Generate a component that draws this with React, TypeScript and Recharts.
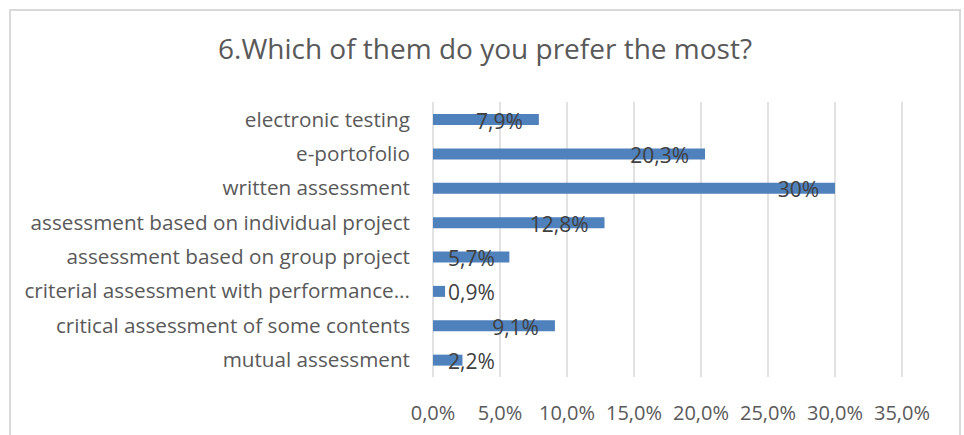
import React from "react";
import { BarChart, Bar, XAxis, YAxis, CartesianGrid, LabelList } from "recharts";

const categories = [
	"electronic testing",
	"e-portofolio",
	"written assessment",
	"assessment based on individual project",
	"assessment based on group project",
	"criterial assessment with performance...",
	"critical assessment of some contents",
	"mutual assessment",
];
const shares = [7.9, 20.3, 30, 12.8, 5.7, 0.9, 9.1, 2.2];
const shareLabels = ["7,9%", "20,3%", "30%", "12,8%", "5,7%", "0,9%", "9,1%", "2,2%"];
const xTicks = [0, 5, 10, 15, 20, 25, 30, 35];

const data = categories.map((name, i) => ({ name, share: shares[i], label: shareLabels[i] }));

const FONT = '"Open Sans", sans-serif';
const LABEL_SIZE = 21;

let ctx: CanvasRenderingContext2D | null = null;
const textWidth = (s: string) => {
	if (!ctx) ctx = document.createElement("canvas").getContext("2d");
	if (!ctx) return s.length * 12;
	ctx.font = `${LABEL_SIZE}px "Open Sans"`;
	return ctx.measureText(s).width;
};

// value label sits just inside the bar end, but never left of the plot start
const ValueLabel = (props: any) => {
	const { x, y, width, height, value } = props;
	const w = textWidth(value);
	const tx = Math.max(x + 15, x + width - 16 - w);
	return (
		<text
			x={tx}
			y={y + height / 2 + 1}
			dominantBaseline="central"
			fill="#404040"
			fontSize={LABEL_SIZE}
			fontFamily={FONT}
		>
			{value}
		</text>
	);
};

const App = () => {
	return (
		<div style={{ position: "absolute", left: 0, top: 0, width: 964, height: 435, overflow: "hidden", background: "#fff" }}>
			<div
				style={{
					position: "absolute",
					left: 9,
					top: 9,
					width: 952,
					height: 450,
					border: "2px solid #d9d9d9",
					boxSizing: "border-box",
				}}
			/>
			<div
				style={{
					position: "absolute",
					left: 0,
					top: 29,
					width: 970,
					textAlign: "center",
					fontFamily: FONT,
					fontSize: 28,
					color: "#595959",
					lineHeight: "38px",
				}}
			>
				6.Which of them do you prefer the most?
			</div>
			<div style={{ position: "absolute", left: 0, top: 0 }}>
				<BarChart
					width={964}
					height={435}
					data={data}
					layout="vertical"
					margin={{ top: 102, right: 62, bottom: 0, left: 0 }}
				>
					<CartesianGrid horizontal={false} stroke="#d9d9d9" strokeWidth={1.5} />
					<XAxis
						type="number"
						domain={[0, 35]}
						ticks={xTicks}
						interval={0}
						height={58}
						axisLine={false}
						tickLine={false}
						tickSize={0}
						tickMargin={29}
						tickFormatter={(v: number) => v.toFixed(1).replace(".", ",") + "%"}
						tick={{ fill: "#595959", fontSize: 20, fontFamily: FONT }}
					/>
					<YAxis
						type="category"
						dataKey="name"
						width={433}
						axisLine={false}
						tickLine={false}
						tickSize={0}
						tickMargin={23}
						interval={0}
						tick={{ fill: "#595959", fontSize: 20.7, fontFamily: FONT }}
					/>
					<Bar dataKey="share" fill="#4f81bd" barSize={11} isAnimationActive={false}>
						<LabelList dataKey="label" content={ValueLabel} />
					</Bar>
				</BarChart>
			</div>
		</div>
	);
};

export default App;
